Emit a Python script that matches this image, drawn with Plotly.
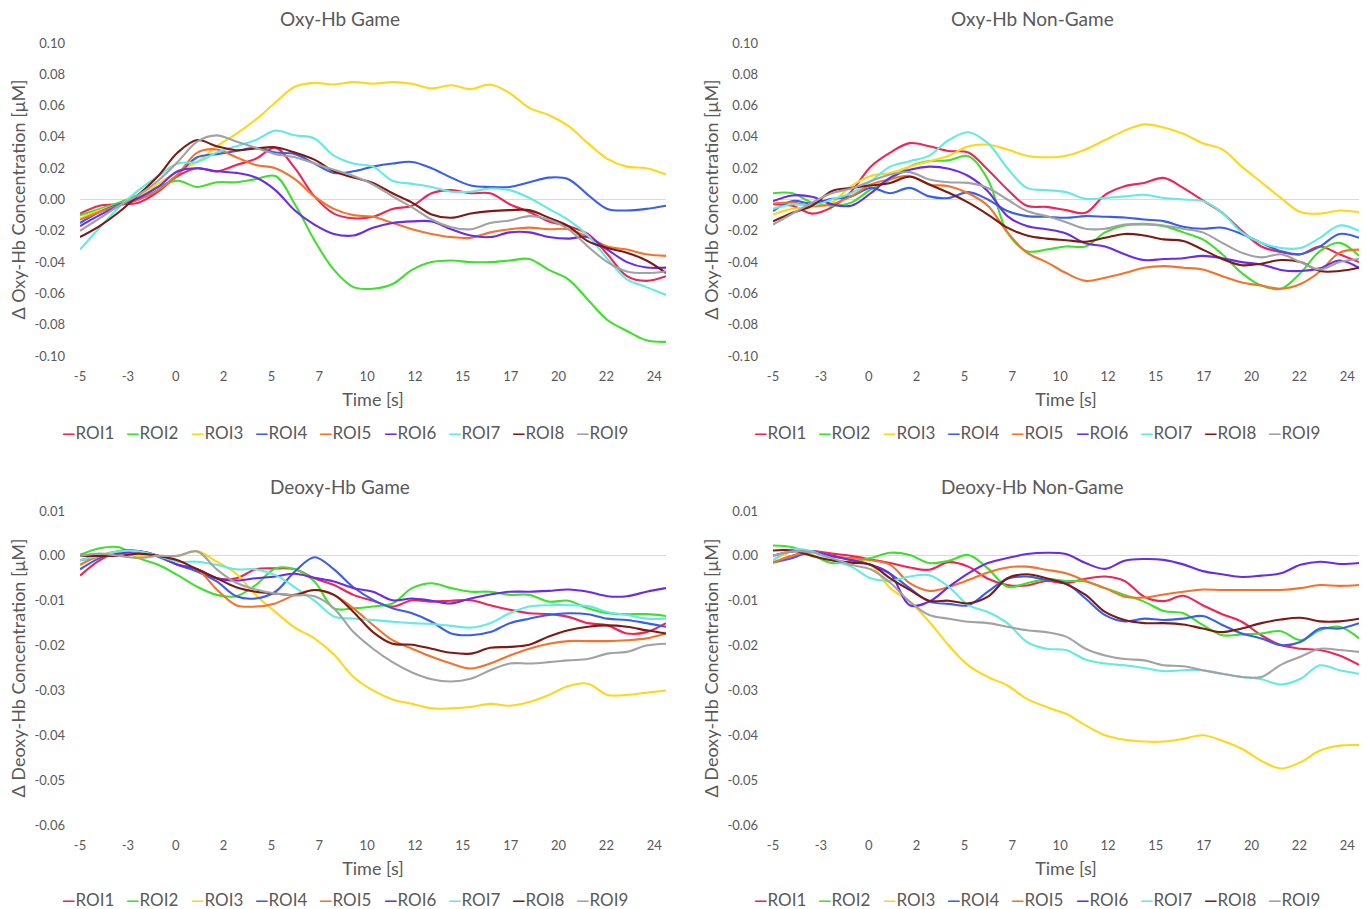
import plotly.graph_objects as go

# ---------------- data ----------------
time_s = [-5, -4, -3, -2, -1, 0, 1, 2, 3, 4, 5, 6, 7, 8, 9, 10, 11, 12, 13, 14, 15,
          16, 17, 18, 19, 20, 21, 22, 23, 24, 25]

roi_names = ["ROI1", "ROI2", "ROI3", "ROI4", "ROI5", "ROI6", "ROI7", "ROI8", "ROI9"]

# Oxy-Hb Game
oxy_game_roi1 = [-0.009, -0.004, -0.003, -0.002, 0.005, 0.015, 0.020, 0.018, 0.022, 0.026, 0.033, 0.020, 0.002, -0.009, -0.012, -0.011, -0.006, -0.004, 0.004, 0.006, 0.004, 0.004, -0.003, -0.008, -0.014, -0.017, -0.022, -0.035, -0.049, -0.052, -0.049]
oxy_game_roi2 = [-0.010, -0.006, -0.002, 0.003, 0.008, 0.012, 0.008, 0.011, 0.011, 0.013, 0.015, -0.003, -0.026, -0.045, -0.056, -0.057, -0.054, -0.045, -0.040, -0.039, -0.040, -0.040, -0.039, -0.038, -0.045, -0.051, -0.064, -0.077, -0.084, -0.090, -0.091]
oxy_game_roi3 = [-0.012, -0.007, -0.003, 0.002, 0.010, 0.018, 0.024, 0.034, 0.042, 0.051, 0.062, 0.072, 0.0745, 0.0735, 0.075, 0.074, 0.075, 0.074, 0.071, 0.073, 0.0705, 0.0735, 0.068, 0.0585, 0.054, 0.047, 0.036, 0.026, 0.021, 0.020, 0.016]
oxy_game_roi4 = [-0.015, -0.008, -0.003, 0.000, 0.006, 0.016, 0.027, 0.029, 0.031, 0.033, 0.030, 0.029, 0.023, 0.017, 0.018, 0.021, 0.023, 0.024, 0.020, 0.014, 0.009, 0.008, 0.008, 0.011, 0.014, 0.013, 0.003, -0.006, -0.007, -0.006, -0.004]
oxy_game_roi5 = [-0.013, -0.008, -0.004, 0.000, 0.006, 0.016, 0.030, 0.032, 0.027, 0.022, 0.020, 0.013, 0.002, -0.006, -0.010, -0.011, -0.015, -0.019, -0.022, -0.024, -0.0245, -0.021, -0.019, -0.018, -0.019, -0.019, -0.024, -0.030, -0.032, -0.035, -0.036]
oxy_game_roi6 = [-0.017, -0.010, -0.004, 0.001, 0.008, 0.018, 0.020, 0.018, 0.017, 0.014, 0.006, -0.007, -0.016, -0.022, -0.023, -0.018, -0.015, -0.014, -0.014, -0.019, -0.023, -0.024, -0.021, -0.021, -0.024, -0.025, -0.024, -0.032, -0.040, -0.0435, -0.0435]
oxy_game_roi7 = [-0.032, -0.018, -0.005, 0.006, 0.015, 0.023, 0.024, 0.030, 0.034, 0.038, 0.044, 0.041, 0.039, 0.028, 0.023, 0.021, 0.012, 0.010, 0.008, 0.005, 0.005, 0.007, 0.006, 0.001, -0.006, -0.013, -0.023, -0.038, -0.051, -0.056, -0.061]
oxy_game_roi8 = [-0.024, -0.017, -0.008, 0.003, 0.015, 0.030, 0.038, 0.034, 0.0315, 0.0326, 0.0334, 0.030, 0.0255, 0.018, 0.014, 0.0106, 0.004, -0.002, -0.0096, -0.0117, -0.009, -0.0074, -0.0068, -0.0068, -0.0117, -0.017, -0.0266, -0.031, -0.034, -0.039, -0.047]
oxy_game_roi9 = [-0.020, -0.012, -0.004, 0.003, 0.012, 0.024, 0.037, 0.041, 0.037, 0.033, 0.029, 0.027, 0.023, 0.019, 0.015, 0.0096, 0.002, -0.005, -0.0128, -0.0177, -0.019, -0.015, -0.0134, -0.0106, -0.0128, -0.019, -0.030, -0.040, -0.046, -0.047, -0.046]

# Oxy-Hb Non-Game
oxy_nongame_roi1 = [-0.003, -0.004, -0.009, -0.005, 0.005, 0.021, 0.030, 0.036, 0.034, 0.031, 0.030, 0.019, 0.0064, -0.004, -0.0047, -0.0068, -0.0085, 0.003, 0.0085, 0.0106, 0.0138, 0.0074, -0.0006, -0.0085, -0.020, -0.030, -0.0336, -0.035, -0.030, -0.035, -0.040]
oxy_nongame_roi2 = [0.004, 0.004, -0.002, -0.004, -0.002, 0.0064, 0.0128, 0.021, 0.0245, 0.025, 0.0277, 0.0128, -0.021, -0.033, -0.032, -0.030, -0.030, -0.021, -0.0166, -0.016, -0.017, -0.021, -0.0255, -0.035, -0.047, -0.055, -0.057, -0.047, -0.033, -0.0277, -0.036]
oxy_nongame_roi3 = [-0.0096, -0.006, -0.005, -0.002, 0.0085, 0.015, 0.017, 0.021, 0.0245, 0.028, 0.034, 0.035, 0.032, 0.028, 0.027, 0.028, 0.032, 0.038, 0.044, 0.048, 0.046, 0.042, 0.036, 0.032, 0.021, 0.011, 0.001, -0.008, -0.009, -0.007, -0.008]
oxy_nongame_roi4 = [-0.0074, -0.001, -0.0026, 0.0004, 0.002, 0.0074, 0.004, 0.0074, 0.002, 0.001, 0.0047, 0.000, -0.0074, -0.0106, -0.011, -0.0117, -0.0106, -0.011, -0.0115, -0.0128, -0.0138, -0.0174, -0.0187, -0.018, -0.022, -0.0277, -0.033, -0.035, -0.030, -0.022, -0.0245]
oxy_nongame_roi5 = [-0.0026, -0.002, -0.004, -0.003, 0.002, 0.0096, 0.013, 0.015, 0.0096, 0.0085, 0.004, -0.004, -0.021, -0.034, -0.040, -0.047, -0.052, -0.050, -0.047, -0.0436, -0.0426, -0.0436, -0.0447, -0.049, -0.053, -0.055, -0.057, -0.054, -0.046, -0.034, -0.032]
oxy_nongame_roi6 = [-0.001, 0.0026, 0.0017, -0.003, -0.004, 0.004, 0.014, 0.019, 0.021, 0.0196, 0.015, 0.0053, -0.0106, -0.017, -0.019, -0.0217, -0.028, -0.030, -0.035, -0.0387, -0.038, -0.0375, -0.036, -0.0375, -0.040, -0.0415, -0.045, -0.0457, -0.044, -0.039, -0.0436]
oxy_nongame_roi7 = [-0.006, -0.003, -0.004, 0.000, 0.004, 0.0117, 0.021, 0.0245, 0.028, 0.038, 0.043, 0.036, 0.020, 0.0074, 0.006, 0.0047, 0.0004, 0.001, 0.002, 0.003, 0.001, 0.000, -0.001, -0.0085, -0.021, -0.0277, -0.031, -0.031, -0.0245, -0.0166, -0.020]
oxy_nongame_roi8 = [-0.014, -0.0085, -0.004, 0.0053, 0.0074, 0.009, 0.0106, 0.0145, 0.0096, 0.0043, -0.002, -0.0096, -0.018, -0.023, -0.025, -0.026, -0.027, -0.0245, -0.022, -0.023, -0.0255, -0.0265, -0.032, -0.038, -0.042, -0.041, -0.0387, -0.040, -0.0457, -0.0457, -0.0436]
oxy_nongame_roi9 = [-0.016, -0.009, -0.002, 0.004, 0.007, 0.0117, 0.016, 0.0175, 0.0128, 0.011, 0.0106, 0.0074, 0.000, -0.0074, -0.0106, -0.0145, -0.0187, -0.0187, -0.016, -0.0155, -0.0166, -0.0187, -0.021, -0.0277, -0.034, -0.037, -0.035, -0.040, -0.0447, -0.040, -0.038]

# Deoxy-Hb Game
deoxy_game_roi1 = [-0.0044, -0.001, 0.001, 0.001, 0.000, -0.002, -0.003, -0.005, -0.005, -0.003, -0.0028, -0.003, -0.005, -0.0065, -0.0087, -0.010, -0.0113, -0.0099, -0.0102, -0.010, -0.0099, -0.011, -0.012, -0.0128, -0.013, -0.0136, -0.015, -0.0155, -0.0173, -0.017, -0.015]
deoxy_game_roi2 = [0.0002, 0.0017, 0.0019, -0.0005, -0.002, -0.0043, -0.0069, -0.0087, -0.009, -0.0065, -0.0028, -0.003, -0.0057, -0.0117, -0.0117, -0.0113, -0.0106, -0.0072, -0.0061, -0.0072, -0.008, -0.008, -0.0087, -0.0087, -0.0102, -0.010, -0.0117, -0.0128, -0.013, -0.013, -0.0134]
deoxy_game_roi3 = [-0.002, 0.000, 0.001, 0.000, 0.000, 0.000, 0.001, -0.0013, -0.004, -0.0087, -0.0125, -0.016, -0.0184, -0.022, -0.027, -0.030, -0.032, -0.033, -0.034, -0.034, -0.0337, -0.033, -0.0334, -0.0326, -0.031, -0.029, -0.0285, -0.031, -0.031, -0.0305, -0.030]
deoxy_game_roi4 = [-0.003, -0.0005, 0.001, 0.0011, -0.0002, -0.002, -0.0035, -0.0057, -0.009, -0.0095, -0.008, -0.0035, -0.0003, -0.003, -0.007, -0.0098, -0.0117, -0.0128, -0.0147, -0.0173, -0.0177, -0.017, -0.015, -0.014, -0.0132, -0.0128, -0.013, -0.014, -0.0143, -0.015, -0.0158]
deoxy_game_roi5 = [-0.002, 0.000, 0.001, 0.001, 0.000, -0.002, -0.003, -0.0075, -0.011, -0.0113, -0.0106, -0.0087, -0.0076, -0.0087, -0.0117, -0.0154, -0.0188, -0.0207, -0.0225, -0.024, -0.0251, -0.024, -0.0222, -0.0207, -0.0196, -0.019, -0.019, -0.019, -0.0188, -0.0184, -0.0173]
deoxy_game_roi6 = [-0.001, 0.000, 0.0005, 0.001, 0.000, -0.002, -0.003, -0.005, -0.0055, -0.005, -0.0046, -0.004, -0.0049, -0.0057, -0.0072, -0.008, -0.0099, -0.0095, -0.010, -0.0106, -0.0095, -0.0086, -0.008, -0.008, -0.0078, -0.0075, -0.008, -0.009, -0.009, -0.008, -0.0072]
deoxy_game_roi7 = [-0.001, 0.000, 0.001, 0.001, 0.000, -0.0013, -0.0013, -0.002, -0.003, -0.003, -0.0043, -0.007, -0.010, -0.0135, -0.014, -0.0143, -0.0147, -0.015, -0.0152, -0.0156, -0.016, -0.015, -0.0128, -0.0113, -0.011, -0.011, -0.0112, -0.0125, -0.0132, -0.014, -0.014]
deoxy_game_roi8 = [0.000, 0.000, 0.000, 0.0005, 0.000, -0.001, -0.003, -0.005, -0.007, -0.008, -0.0084, -0.0087, -0.0076, -0.0087, -0.0125, -0.017, -0.0196, -0.0198, -0.0207, -0.0216, -0.0218, -0.0205, -0.0203, -0.0198, -0.018, -0.0166, -0.0158, -0.0155, -0.0158, -0.0166, -0.0173]
deoxy_game_roi9 = [0.000, 0.0005, 0.000, -0.0005, 0.000, 0.000, 0.001, -0.003, -0.006, -0.0075, -0.0084, -0.0088, -0.009, -0.0117, -0.017, -0.0207, -0.0237, -0.026, -0.0275, -0.028, -0.0274, -0.0255, -0.024, -0.024, -0.0237, -0.0233, -0.023, -0.0218, -0.0214, -0.020, -0.0196]

# Deoxy-Hb Non-Game
deoxy_nongame_roi1 = [-0.0015, 0.000, 0.001, 0.0005, 0.000, -0.0008, -0.0016, -0.0026, -0.0031, -0.0014, -0.0024, -0.0051, -0.0065, -0.0066, -0.0056, -0.0061, -0.0051, -0.0046, -0.0056, -0.0091, -0.0101, -0.0089, -0.011, -0.013, -0.0147, -0.0177, -0.0199, -0.0207, -0.021, -0.0222, -0.0243]
deoxy_nongame_roi2 = [0.0023, 0.0019, 0.0002, -0.0016, -0.0013, -0.0005, 0.0007, 0.0002, -0.0016, -0.0011, 0.0002, -0.0028, -0.0069, -0.0061, -0.0052, -0.0056, -0.0057, -0.0072, -0.0087, -0.0102, -0.0123, -0.0128, -0.0154, -0.0177, -0.0175, -0.0173, -0.0168, -0.0188, -0.0166, -0.0158, -0.0184]
deoxy_nongame_roi3 = [-0.001, 0.001, 0.001, 0.000, -0.001, -0.002, -0.0072, -0.0102, -0.0147, -0.020, -0.0244, -0.027, -0.0289, -0.0319, -0.0337, -0.0352, -0.0378, -0.040, -0.041, -0.0414, -0.0414, -0.0408, -0.040, -0.0412, -0.043, -0.0457, -0.0474, -0.046, -0.0434, -0.0423, -0.0422]
deoxy_nongame_roi4 = [-0.0015, -0.0005, 0.001, 0.000, -0.0008, -0.002, -0.004, -0.0072, -0.0102, -0.0107, -0.011, -0.008, -0.0051, -0.0046, -0.0054, -0.0061, -0.0095, -0.0132, -0.0146, -0.014, -0.0143, -0.014, -0.0134, -0.0154, -0.0173, -0.0184, -0.0199, -0.0192, -0.0162, -0.0162, -0.015]
deoxy_nongame_roi5 = [-0.0015, 0.000, 0.001, 0.000, -0.0005, -0.001, -0.002, -0.0061, -0.0078, -0.0069, -0.0054, -0.0037, -0.0026, -0.0024, -0.0031, -0.0039, -0.0056, -0.0072, -0.0091, -0.0093, -0.0086, -0.008, -0.0075, -0.0076, -0.0076, -0.0076, -0.0076, -0.0072, -0.0065, -0.0067, -0.0065]
deoxy_nongame_roi6 = [0.000, 0.001, 0.001, 0.000, -0.001, -0.002, -0.004, -0.011, -0.0102, -0.0069, -0.0039, -0.0016, -0.0005, 0.0004, 0.0007, 0.0004, -0.0016, -0.0029, -0.0011, -0.0007, -0.0009, -0.0019, -0.0034, -0.0041, -0.0047, -0.0044, -0.0039, -0.002, -0.0013, -0.0018, -0.0016]
deoxy_nongame_roi7 = [-0.001, 0.0015, 0.001, -0.001, -0.0024, -0.005, -0.0056, -0.0046, -0.0043, -0.0069, -0.011, -0.0125, -0.015, -0.0192, -0.0207, -0.021, -0.0231, -0.024, -0.0244, -0.025, -0.0257, -0.0255, -0.0255, -0.0263, -0.027, -0.0275, -0.0287, -0.0274, -0.0244, -0.0255, -0.0263]
deoxy_nongame_roi8 = [0.0012, 0.0012, 0.000, -0.001, -0.0015, -0.002, -0.005, -0.0076, -0.010, -0.010, -0.0106, -0.0091, -0.005, -0.0041, -0.005, -0.0063, -0.0087, -0.0125, -0.0143, -0.015, -0.015, -0.0153, -0.0162, -0.017, -0.0162, -0.015, -0.0142, -0.0138, -0.0146, -0.0146, -0.014]
deoxy_nongame_roi9 = [0.000, 0.001, 0.0008, -0.0005, -0.002, -0.003, -0.006, -0.0102, -0.0132, -0.014, -0.0147, -0.015, -0.0158, -0.0166, -0.017, -0.018, -0.0207, -0.0222, -0.023, -0.0233, -0.0244, -0.0246, -0.0255, -0.0263, -0.027, -0.027, -0.0243, -0.0225, -0.0207, -0.021, -0.0214]

# axis ticks
x_tickvals = [-5, -2.55, -0.1, 2.35, 4.8, 7.25, 9.7, 12.15, 14.6, 17.05, 19.5, 21.95, 24.4]
x_ticktext = ["-5", "-3", "0", "2", "5", "7", "10", "12", "15", "17", "20", "22", "24"]
oxy_tickvals = [0.10, 0.08, 0.06, 0.04, 0.02, 0.00, -0.02, -0.04, -0.06, -0.08, -0.10]
oxy_ticktext = ["0.10", "0.08", "0.06", "0.04", "0.02", "0.00", "-0.02", "-0.04", "-0.06", "-0.08", "-0.10"]
deoxy_tickvals = [0.01, 0.00, -0.01, -0.02, -0.03, -0.04, -0.05, -0.06]
deoxy_ticktext = ["0.01", "0.00", "-0.01", "-0.02", "-0.03", "-0.04", "-0.05", "-0.06"]

panel_titles = ["Oxy-Hb Game", "Oxy-Hb Non-Game", "Deoxy-Hb Game", "Deoxy-Hb Non-Game"]

# ---------------- styling ----------------
roi_colors = ["#EE2557", "#3FE02C", "#FFD61C", "#3A5EEA", "#F4732C",
              "#6A2CE6", "#62EAE3", "#7E1A14", "#A2A2A2"]
TXT = "#595959"
FONT = "Lato"
W, H = 1366, 909

panels = [
    dict(series=[oxy_game_roi1, oxy_game_roi2, oxy_game_roi3, oxy_game_roi4, oxy_game_roi5,
                 oxy_game_roi6, oxy_game_roi7, oxy_game_roi8, oxy_game_roi9],
         xa="x", ya="y"),
    dict(series=[oxy_nongame_roi1, oxy_nongame_roi2, oxy_nongame_roi3, oxy_nongame_roi4, oxy_nongame_roi5,
                 oxy_nongame_roi6, oxy_nongame_roi7, oxy_nongame_roi8, oxy_nongame_roi9],
         xa="x2", ya="y2"),
    dict(series=[deoxy_game_roi1, deoxy_game_roi2, deoxy_game_roi3, deoxy_game_roi4, deoxy_game_roi5,
                 deoxy_game_roi6, deoxy_game_roi7, deoxy_game_roi8, deoxy_game_roi9],
         xa="x3", ya="y3"),
    dict(series=[deoxy_nongame_roi1, deoxy_nongame_roi2, deoxy_nongame_roi3, deoxy_nongame_roi4, deoxy_nongame_roi5,
                 deoxy_nongame_roi6, deoxy_nongame_roi7, deoxy_nongame_roi8, deoxy_nongame_roi9],
         xa="x4", ya="y4"),
]

fig = go.Figure()
for p in panels:
    for name, col, vals in zip(roi_names, roi_colors, p["series"]):
        fig.add_trace(go.Scatter(
            x=time_s, y=vals, name=name, mode="lines",
            line=dict(color=col, width=2.1, shape="spline", smoothing=1.0),
            xaxis=p["xa"], yaxis=p["ya"], showlegend=False, hoverinfo="x+y+name"))

# pixel geometry of plot areas
left_dom = [80 / W, 666 / W]
right_dom = [773 / W, 1359 / W]
top_dom = [1 - 356 / H, 1 - 43 / H]
bot_dom = [1 - 825 / H, 1 - 511 / H]

def xaxis_cfg(dom, anchor):
    return dict(domain=dom, anchor=anchor, range=[-5, 25], tickmode="array",
                tickvals=x_tickvals, ticktext=x_ticktext, showgrid=False, zeroline=False,
                showline=False, ticks="", ticklabelstandoff=11,
                tickfont=dict(size=13, color=TXT, family=FONT), automargin=False,
                title=dict(text="Time [s]", font=dict(size=18, color=TXT, family=FONT), standoff=10))

def yaxis_cfg(dom, anchor, tv, tt, rng, title):
    return dict(domain=dom, anchor=anchor, range=rng, tickmode="array",
                tickvals=tv, ticktext=tt, showgrid=False, zeroline=True,
                zerolinecolor="#D9D9D9", zerolinewidth=1, showline=False, ticks="",
                ticklabelstandoff=14, tickfont=dict(size=13, color=TXT, family=FONT),
                automargin=False,
                title=dict(text=title, font=dict(size=18, color=TXT, family=FONT), standoff=4))

fig.update_layout(
    width=W, height=H, margin=dict(l=0, r=0, t=0, b=0),
    paper_bgcolor="white", plot_bgcolor="white",
    font=dict(family=FONT, color=TXT),
    showlegend=False,
    xaxis=xaxis_cfg(left_dom, "y"),
    xaxis2=xaxis_cfg(right_dom, "y2"),
    xaxis3=xaxis_cfg(left_dom, "y3"),
    xaxis4=xaxis_cfg(right_dom, "y4"),
    yaxis=yaxis_cfg(top_dom, "x", oxy_tickvals, oxy_ticktext, [-0.1, 0.1], "Δ Oxy-Hb Concentration [μM]"),
    yaxis2=yaxis_cfg(top_dom, "x2", oxy_tickvals, oxy_ticktext, [-0.1, 0.1], "Δ Oxy-Hb Concentration [μM]"),
    yaxis3=yaxis_cfg(bot_dom, "x3", deoxy_tickvals, deoxy_ticktext, [-0.06, 0.01], "Δ Deoxy-Hb Concentration [μM]"),
    yaxis4=yaxis_cfg(bot_dom, "x4", deoxy_tickvals, deoxy_ticktext, [-0.06, 0.01], "Δ Deoxy-Hb Concentration [μM]"),
)

# panel titles
title_pos = [(340, 18), (1032, 18), (340, 486), (1032, 486)]
for text, (px, py) in zip(panel_titles, title_pos):
    fig.add_annotation(text=text, x=px / W, y=1 - py / H, xref="paper", yref="paper",
                       showarrow=False, xanchor="center", yanchor="middle",
                       font=dict(size=19, color=TXT, family=FONT))

# legends (one row per panel, Excel style "—ROIn")
legend_rows = [(60, 432), (752, 432), (60, 899), (752, 899)]
for lx, ly in legend_rows:
    for i, (name, col) in enumerate(zip(roi_names, roi_colors)):
        fig.add_annotation(
            text=f"<span style='color:{col}'><b>—</b></span>{name}",
            x=(lx + i * 64.3) / W, y=1 - ly / H, xref="paper", yref="paper",
            showarrow=False, xanchor="left", yanchor="middle",
            font=dict(size=17, color=TXT, family=FONT))

fig.write_html("out.html", config={"displayModeBar": False},
               post_script="document.body.style.margin='0';document.body.style.overflow='hidden';")
